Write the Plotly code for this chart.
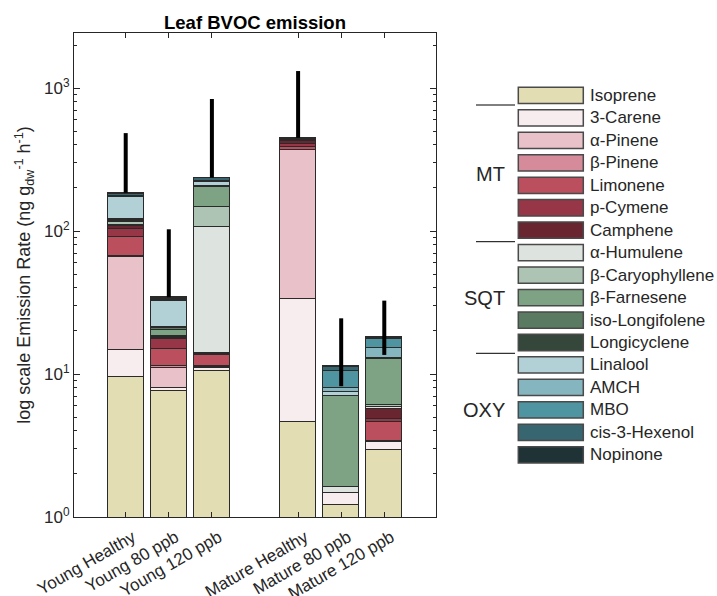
import plotly.graph_objects as go
import numpy as np

# ---------------- data ----------------
categories = ["Young Healthy", "Young 80 ppb", "Young 120 ppb",
              "Mature Healthy", "Mature 80 ppb", "Mature 120 ppb"]

compounds = ["Isoprene", "3-Carene", "α-Pinene", "β-Pinene", "Limonene", "p-Cymene",
             "Camphene", "α-Humulene", "β-Caryophyllene", "β-Farnesene",
             "iso-Longifolene", "Longicyclene", "Linalool", "AMCH", "MBO",
             "cis-3-Hexenol", "Nopinone"]

colors = ["#e2ddb3", "#f7edee", "#e8c1c9", "#d58b99", "#bc4f5e", "#963646",
          "#6a2630", "#dde3df", "#adc3b3", "#7ea384", "#5a7a61", "#34473a",
          "#b2d1d7", "#85b6c0", "#4f95a1", "#376670", "#1f3337"]

# emission per compound (ng g-1 h-1) for each treatment, in category order
isoprene        = [9.5, 7.64, 10.5, 4.6, 1.21, 2.94]
carene3         = [5.2, 0.30, 0.46, 28.9, 0.255, 0.41]
a_pinene        = [51.3, 3.10, 0.30, 334.5, 0.0, 0.03]
b_pinene        = [0.5, 0.30, 0.10, 2.0, 0.0, 0.02]
limonene        = [24.5, 3.60, 2.30, 20.0, 0.0, 1.24]
p_cymene        = [12.0, 2.60, 0.20, 15.0, 0.0, 0.17]
camphene        = [5.0, 0.40, 0.10, 20.0, 0.0, 0.85]
a_humulene      = [3.0, 0.30, 92.5, 2.0, 0.145, 0.25]
b_caryophyllene = [4.0, 0.20, 42.0, 1.0, 0.02, 0.16]
b_farnesene     = [3.0, 1.80, 56.0, 3.0, 5.39, 6.63]
iso_longifolene = [2.0, 0.60, 1.5, 1.0, 0.02, 0.02]
longicyclene    = [1.0, 0.40, 1.5, 1.0, 0.02, 0.02]
linalool        = [51.0, 11.4, 14.0, 2.0, 0.42, 0.11]
amch            = [1.0, 0.30, 1.0, 1.0, 0.46, 2.25]
mbo             = [2.0, 0.40, 2.0, 2.0, 2.60, 2.40]
cis3_hexenol    = [8.0, 0.90, 9.0, 8.0, 0.70, 0.50]
nopinone        = [2.0, 0.20, 3.0, 3.0, 0.18, 0.20]

err_up   = [299, 68.4, 602, 866, 13.1, 14.4]
err_down = [0, 0, 0, 0, 3.2, 4.6]

series = [isoprene, carene3, a_pinene, b_pinene, limonene, p_cymene, camphene,
          a_humulene, b_caryophyllene, b_farnesene, iso_longifolene, longicyclene,
          linalool, amch, mbo, cis3_hexenol, nopinone]

groups = ["MT", "SQT", "OXY"]

# ---------------- layout geometry ----------------
W, H = 717, 596
L, R, T, B = 74, 281, 33, 79
PW, PH = W - L - R, H - T - B

def px(x):
    return (x - L) / PW

def py(y):
    return (H - B - y) / PH

xpos = [1, 2, 3, 5, 6, 7]
FONT = "Liberation Sans, Arial, Helvetica, sans-serif"
TXT = "#262626"

fig = go.Figure()
for name, vals, col in zip(compounds, series, colors):
    fig.add_trace(go.Bar(x=xpos, y=vals, name=name, width=0.84,
                         marker=dict(color=col, line=dict(color="#2a2a2a", width=1)),
                         showlegend=False))

totals = np.sum(np.array(series), axis=0)
fig.add_trace(go.Scatter(x=xpos, y=totals, mode="markers",
                         marker=dict(size=1, color="rgba(0,0,0,0)"),
                         error_y=dict(type="data", array=err_up, arrayminus=err_down,
                                      symmetric=False, color="black", thickness=4, width=0),
                         showlegend=False, hoverinfo="skip"))

minor_vals = [m * 10 ** d for d in range(0, 4) for m in range(2, 10)]

fig.update_layout(
    width=W, height=H, margin=dict(l=L, r=R, t=T, b=B, pad=0, autoexpand=False),
    barmode="stack", bargap=0,
    plot_bgcolor="white", paper_bgcolor="white",
    font=dict(family=FONT, size=17, color=TXT),
    xaxis=dict(range=[-0.2, 8.2], tickmode="array", tickvals=xpos, ticktext=categories,
               tickangle=-30, ticks="inside", ticklen=5, tickcolor=TXT, automargin=False,
               ticklabelshift=7, ticklabelstandoff=3,
               showline=True, linecolor=TXT, linewidth=1, mirror="ticks",
               showgrid=False, zeroline=False, tickfont=dict(size=17, color=TXT)),
    yaxis=dict(type="log", range=[0, 3.385], tickmode="array",
               tickvals=[1, 10, 100, 1000],
               ticktext=["10<sup>0</sup>", "10<sup>1</sup>", "10<sup>2</sup>", "10<sup>3</sup>"],
               ticks="inside", ticklen=6, tickcolor=TXT, automargin=False,
               minor=dict(tickmode="array", tickvals=minor_vals, ticks="inside",
                          ticklen=3, tickcolor=TXT, showgrid=False),
               showline=True, linecolor=TXT, linewidth=1, mirror="ticks",
               showgrid=False, zeroline=False, tickfont=dict(size=17, color=TXT),
               title=dict(text="log scale Emission Rate (ng g<sub>dw</sub><sup>-1</sup> h<sup>-1</sup>)",
                          font=dict(size=18, color=TXT), standoff=8)),
)

# title
fig.add_annotation(text="<b>Leaf BVOC emission</b>", xref="paper", yref="paper",
                   x=0.5, y=py(22), xanchor="center", yanchor="middle",
                   showarrow=False, font=dict(size=18.5, color="black"))

# custom legend
y0, pitch, rh = 87.3, 22.46, 16.3
for i, (name, col) in enumerate(zip(compounds, colors)):
    top = y0 + i * pitch
    fig.add_shape(type="rect", xref="paper", yref="paper",
                  x0=px(518.3), x1=px(583.3), y0=py(top + rh), y1=py(top),
                  fillcolor=col, line=dict(color="#4a4a4a", width=1.5))
    fig.add_annotation(text=name, xref="paper", yref="paper",
                       x=px(588), y=py(top + rh / 2), xanchor="left", yanchor="middle",
                       showarrow=False, font=dict(size=17, color=TXT))

for ysep in [105, 241.7, 353.3]:
    fig.add_shape(type="line", xref="paper", yref="paper",
                  x0=px(476), x1=px(515), y0=py(ysep), y1=py(ysep),
                  line=dict(color="black", width=1))

for g, yc in zip(groups, [174, 298, 410]):
    fig.add_annotation(text=g, xref="paper", yref="paper",
                       x=px(507), y=py(yc), xanchor="right", yanchor="middle",
                       showarrow=False, font=dict(size=20, color=TXT))

fig.write_html("out.html")
